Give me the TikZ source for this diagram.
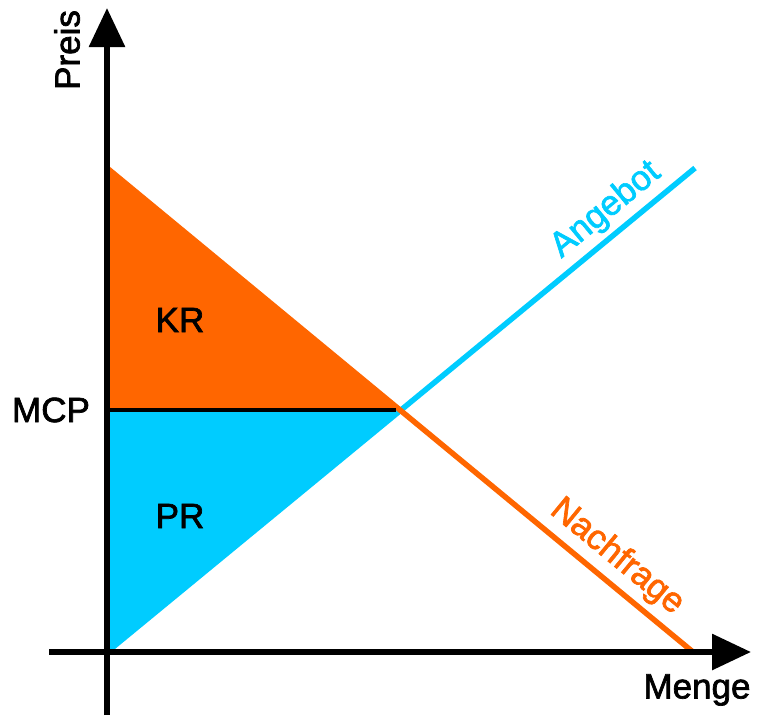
\documentclass[tikz,border=0pt]{standalone}
\usepackage{fontspec}
\setmainfont[FakeBold=2]{Liberation Sans}
\usetikzlibrary{arrows.meta}
\definecolor{kr}{HTML}{FF6600}
\definecolor{pr}{HTML}{00CCFF}
\begin{document}
\begin{tikzpicture}[x=1pt,y=-1pt,
  axis/.style={line width=6pt,-{Triangle[length=39pt,width=35pt]}},
  lbl/.style={font=\fontsize{35}{40}\selectfont,inner sep=0pt},
  curve/.style={line width=5.5pt}]
\useasboundingbox (0,0) rectangle (757,715);
\coordinate (O) at (107,652);
\coordinate (E) at (400,410);
\coordinate (M) at (107,410);
\coordinate (ME) at (396,410);
\coordinate (T) at (107,168);
\coordinate (S) at (695,168);
\coordinate (D) at (693,652);
\coordinate (Vb) at (107,715);
\coordinate (Vt) at (107,8);
\coordinate (Hl) at (49,652);
\coordinate (Hr) at (751,652);
\fill[kr] (T) -- (E) -- (M) -- cycle;
\fill[pr] (M) -- (E) -- (O) -- cycle;
\draw[curve,pr] (O) -- (S);
\draw[curve,kr] (T) -- (D);
\draw[line width=4pt] (M) -- (ME);
\draw[axis] (Vb) -- (Vt);
\draw[axis] (Hl) -- (Hr);
\node[lbl,rotate=90] (preis) at (67,50) {Preis};
\node[lbl] (menge) at (697,690) {Menge};
\node[lbl] (mcp) at (51,410) {MCP};
\node[lbl] (krl) at (180,320) {KR};
\node[lbl] (prl) at (180,516) {PR};
\node[lbl,pr,rotate=39.5] (ang) at (606,210) {Angebot};
\node[lbl,kr,rotate=-39.4] (nach) at (617,557) {Nachfrage};
\end{tikzpicture}
\end{document}
